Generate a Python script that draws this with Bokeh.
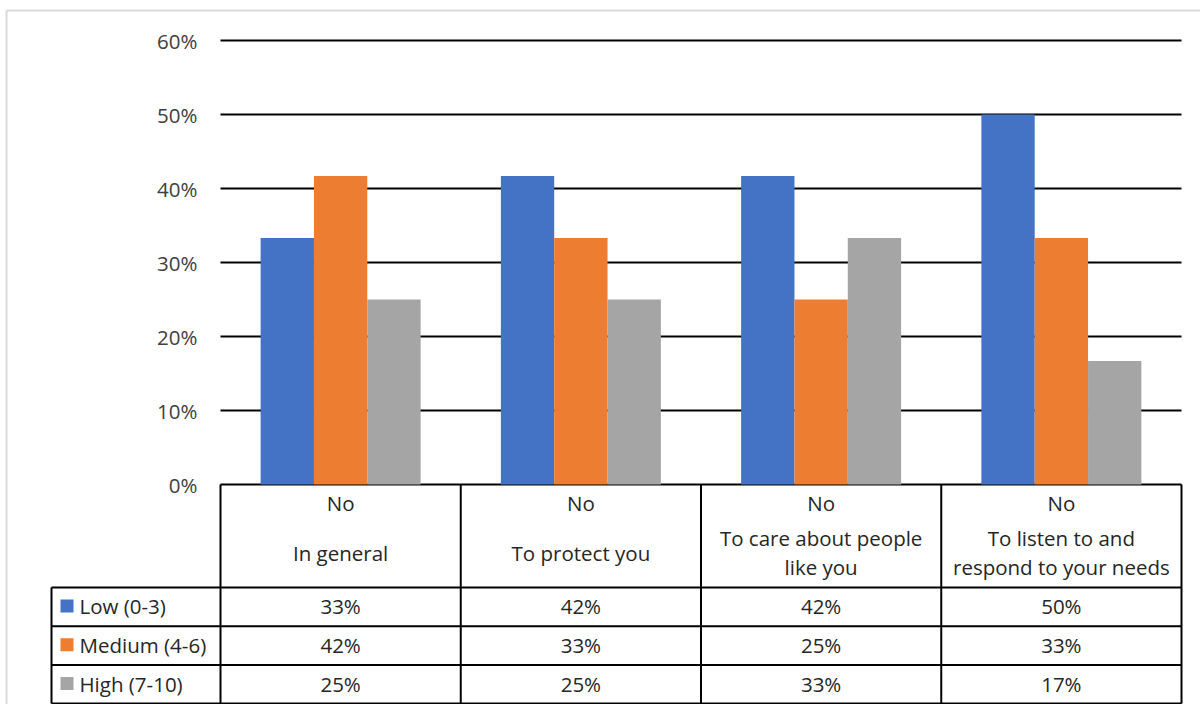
from bokeh.plotting import figure
from bokeh.models import Range1d, ColumnDataSource
from bokeh.embed import file_html
from bokeh.resources import INLINE
from bokeh.core.properties import value
from bokeh.transform import dodge

# ---------------- data ----------------
group_labels = ["No", "No", "No", "No"]
categories = ["In general", "To protect you", "To care about people\nlike you",
              "To listen to and\nrespond to your needs"]
series_names = ["Low (0-3)", "Medium (4-6)", "High (7-10)"]
low = [33.3, 41.7, 41.7, 50.0]
medium = [41.7, 33.3, 25.0, 33.3]
high = [25.0, 25.0, 33.3, 16.7]
y_ticks = [0, 10, 20, 30, 40, 50, 60]
y_tick_labels = ["0%", "10%", "20%", "30%", "40%", "50%", "60%"]

# ---------------- style / layout constants ----------------
colors = ["#4472C4", "#ED7D31", "#A5A5A5"]
FONT = value("Open Sans")
FS = "20.5px"
TXT = "#262626"
AX_TXT = "#404040"
WC, HC = 1200, 704            # canvas size
X0_PX, X4_PX = 220, 1181      # plot area left / right (px)
Y0_PX = 484                   # px of the 0 % line
PX_Y = 7.4                    # px per 1 %
n = len(categories)
CAT_PX = (X4_PX - X0_PX) / n
BAR_W = (160 / 3.0) / CAT_PX


def xpx(px):
    return (px - X0_PX) / CAT_PX


def ypx(py):
    return (Y0_PX - py) / PX_Y


series = [low, medium, high]
xc = [i + 0.5 for i in range(n)]
src = ColumnDataSource(dict(x=xc, low=low, medium=medium, high=high))

p = figure(width=WC, height=HC,
           x_range=Range1d(xpx(0), xpx(WC)), y_range=Range1d(ypx(HC), ypx(0)),
           min_border=0, x_axis_location=None, y_axis_location=None,
           toolbar_location=None, output_backend="svg", outline_line_color=None)
p.grid.visible = False

# outer chart border (top and left)
p.segment(x0=[xpx(6), xpx(6)], y0=[ypx(10), ypx(10)], x1=[xpx(WC + 5), xpx(6)],
          y1=[ypx(10), ypx(HC + 5)], line_color="#d9d9d9", line_width=2)

# gridlines
p.segment(x0=[0] * len(y_ticks), y0=y_ticks, x1=[n] * len(y_ticks), y1=y_ticks,
          line_color="black", line_width=2)

# value axis labels
p.text(x=[0] * len(y_ticks), y=y_ticks, text=y_tick_labels, x_offset=-23,
       text_font=FONT, text_font_size=FS, text_color=AX_TXT,
       text_align="right", text_baseline="middle")

# bars
for k, (col, c) in enumerate(zip(["low", "medium", "high"], colors)):
    p.vbar(x=dodge("x", (k - 1) * BAR_W, range=p.x_range), top=col, bottom=0,
           width=BAR_W, source=src, fill_color=c, line_color=None)

# ---------------- data table ----------------
HEADER_BOT = 587
ROW_H = 38.7
TABLE_BOT = HEADER_BOT + ROW_H * len(series_names)
LEG_X = xpx(51)

x0s, y0s, x1s, y1s = [], [], [], []
for i in range(n + 1):
    x0s.append(i); x1s.append(i); y0s.append(ypx(Y0_PX)); y1s.append(ypx(TABLE_BOT))
x0s.append(LEG_X); x1s.append(LEG_X); y0s.append(ypx(HEADER_BOT)); y1s.append(ypx(TABLE_BOT))
for r in range(len(series_names) + 1):
    yy = ypx(HEADER_BOT + r * ROW_H)
    x0s.append(LEG_X); x1s.append(n); y0s.append(yy); y1s.append(yy)
p.segment(x0=x0s, y0=y0s, x1=x1s, y1=y1s, line_color="black", line_width=2)

p.text(x=xc, y=[ypx(502)] * n, text=group_labels, text_font=FONT, text_font_size=FS,
       text_color=TXT, text_align="center", text_baseline="middle")
p.text(x=xc, y=[ypx(552)] * n, text=categories, text_font=FONT, text_font_size=FS,
       text_color=TXT, text_align="center", text_baseline="middle",
       text_line_height=1.03)

for r, (name, vals, c) in enumerate(zip(series_names, series, colors)):
    yy = ypx(HEADER_BOT + (r + 0.5) * ROW_H) + 0.1
    p.text(x=xc, y=[yy] * n, text=[f"{round(v)}%" for v in vals], text_font=FONT,
           text_font_size=FS, text_color=TXT, text_align="center", text_baseline="middle")
    p.rect(x=[xpx(66.5)], y=[yy], width=13, height=13, width_units="screen",
           height_units="screen", fill_color=c, line_color=None)
    p.text(x=[xpx(79)], y=[yy], text=[name], text_font=FONT, text_font_size=FS,
           text_color=TXT, text_align="left", text_baseline="middle")

open("out.html", "w").write(file_html(p, INLINE))
